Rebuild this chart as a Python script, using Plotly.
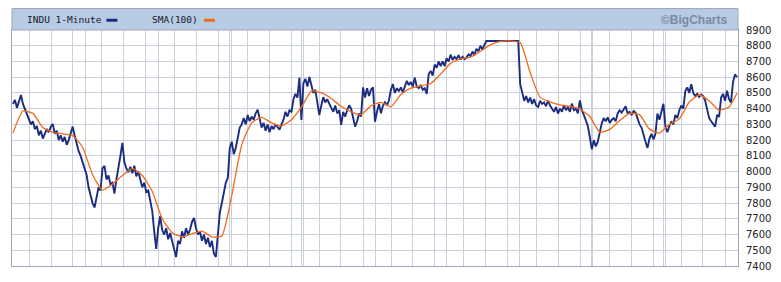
import plotly.graph_objects as go

indu = [
    8430, 8455, 8405, 8440, 8487, 8430, 8400, 8360, 8330, 8300,
    8320, 8270, 8290, 8230, 8260, 8210, 8240, 8270, 8250, 8285,
    8303, 8240, 8260, 8200, 8230, 8190, 8220, 8170, 8200, 8250,
    8286, 8230, 8170, 8130, 8100, 8060, 8010, 7980, 7900, 7840,
    7800, 7772, 7840, 7900, 7880, 8020, 8037, 7950, 7975, 7920,
    7930, 7861, 7950, 8040, 8100, 8182, 8060, 8020, 7996, 8030,
    7990, 8037, 7970, 8000, 7950, 7900, 7930, 7870, 7880, 7800,
    7750, 7620, 7508, 7640, 7716, 7630, 7600, 7640, 7570, 7610,
    7560, 7500, 7457, 7560, 7540, 7620, 7580, 7640, 7600, 7630,
    7680, 7705, 7640, 7600, 7620, 7560, 7600, 7540, 7580, 7520,
    7560, 7480, 7457, 7600, 7740, 7800, 7880, 7930, 7960, 8150,
    8190, 8110, 8150, 8230, 8280, 8300, 8340, 8300, 8360, 8320,
    8350, 8330, 8370, 8394, 8340, 8280, 8310, 8260, 8300, 8250,
    8290, 8270, 8300, 8280, 8266, 8300, 8330, 8380, 8350, 8390,
    8380, 8460, 8494, 8470, 8597, 8328, 8560, 8590, 8540, 8601,
    8556, 8500, 8520, 8440, 8359, 8420, 8473, 8440, 8460, 8432,
    8410, 8380, 8420, 8370, 8390, 8297, 8380, 8350, 8390, 8421,
    8400, 8340, 8286, 8320, 8369, 8350, 8535, 8470, 8530, 8480,
    8520, 8535, 8317, 8380, 8430, 8370, 8420, 8440, 8421, 8452,
    8520, 8556, 8500, 8530, 8510, 8535, 8504, 8540, 8577, 8550,
    8570, 8540, 8597, 8540, 8530, 8550, 8520, 8530, 8494, 8620,
    8640, 8610, 8680, 8660, 8700, 8670, 8701, 8670, 8720, 8700,
    8743, 8710, 8730, 8715, 8740, 8711, 8730, 8715, 8725, 8745,
    8735, 8763, 8740, 8780, 8765, 8800, 8775, 8805, 8830, 8830,
    8830, 8830, 8830, 8830, 8830, 8830, 8830, 8830, 8830, 8830,
    8830, 8830, 8830, 8830, 8830, 8556, 8494, 8450, 8480, 8440,
    8470, 8430, 8460, 8420, 8411, 8450, 8430, 8440, 8415, 8452,
    8420, 8400, 8380, 8411, 8369, 8400, 8380, 8420, 8390, 8410,
    8380, 8432, 8390, 8400, 8370, 8452, 8390, 8360, 8328, 8290,
    8220, 8141, 8200, 8160, 8190, 8260, 8307, 8340, 8320, 8345,
    8310, 8328, 8340, 8320, 8370, 8390, 8375, 8395, 8415, 8370,
    8380, 8360, 8385, 8375, 8330, 8300, 8280, 8230, 8190, 8151,
    8210, 8240, 8205, 8240, 8369, 8330, 8390, 8431, 8286, 8250,
    8290, 8320, 8300, 8360, 8340, 8390, 8420, 8400, 8510, 8535,
    8500, 8556, 8500, 8480, 8494, 8475, 8490, 8480, 8450, 8400,
    8340, 8320, 8300, 8286, 8360, 8348, 8470, 8494, 8450, 8514,
    8460, 8440, 8570, 8618, 8600,
]
minute = list(range(len(indu)))

# SMA(100) read every 5th sample, plus the last one
sma_idx = list(range(0, 361, 5)) + [364]
sma = [
    8245, 8385, 8370, 8280, 8250, 8240, 8228, 8155, 7980, 7882,
    7920, 7975, 8020, 7975, 7875, 7700, 7612, 7585, 7605, 7622,
    7585, 7590, 7850, 8170, 8310, 8345, 8310, 8290, 8330, 8410,
    8512, 8500, 8465, 8415, 8380, 8362, 8418, 8440, 8412, 8490,
    8530, 8545, 8560, 8620, 8688, 8716, 8728, 8765, 8805, 8828,
    8830, 8820, 8630, 8472, 8443, 8424, 8414, 8398, 8350, 8250,
    8268, 8325, 8370, 8362, 8270, 8245, 8300, 8335, 8442, 8487,
    8450, 8390, 8410, 8500,
]

# vertical grid positions (in sample units)
vgrid = [8.15, 19.35, 30.15, 36.5, 44.65, 55.65, 66.85, 73.15, 81.35, 92.5,
         103.15, 108.85, 109.65, 117.65, 128.85, 139.85, 145.15, 146.0, 153.85,
         164.85, 176.0, 182.25, 190.15, 201.0, 212.15, 218.15, 226.5, 237.65,
         248.85, 254.65, 263.15, 274.35, 285.15, 290.65, 291.5, 299.85, 311.0,
         321.85, 327.15, 328.0, 336.0, 346.85, 358.15]

BLUE = "#1c2d80"
ORANGE = "#f06a1c"
GRID = "#c9cfdc"
FRAME = "#9ea8b8"
HEADER = "#b7cbe3"

fig = go.Figure()
fig.add_trace(go.Scatter(x=minute, y=indu, mode="lines",
                         line=dict(color=BLUE, width=1.9), hoverinfo="skip"))
fig.add_trace(go.Scatter(x=sma_idx, y=sma, mode="lines",
                         line=dict(color=ORANGE, width=1.3, shape="spline", smoothing=0.5),
                         hoverinfo="skip"))

top = (272 - 8) / 242.0
fig.update_layout(
    width=781, height=282,
    margin=dict(l=12, r=39, t=30, b=10, pad=0),
    paper_bgcolor="white", plot_bgcolor="white",
    showlegend=False,
    xaxis=dict(range=[-0.5, 364.5], tickvals=vgrid, showticklabels=False,
               showgrid=True, gridcolor=GRID, gridwidth=1, zeroline=False,
               showline=True, linecolor=FRAME, linewidth=1, mirror=True, ticks=""),
    yaxis=dict(range=[7400, 8900], tick0=7400, dtick=100, side="right",
               showgrid=True, gridcolor=GRID, gridwidth=1, zeroline=False,
               showline=True, linecolor=FRAME, linewidth=1, mirror=True,
               ticks="outside", ticklen=5, tickcolor="rgba(0,0,0,0)",
               tickfont=dict(family="DejaVu Sans", size=10, color="#222222")),
    shapes=[
        dict(type="rect", xref="paper", yref="paper", x0=0, x1=1, y0=1.0, y1=top,
             fillcolor=HEADER, line=dict(color=FRAME, width=1), layer="above"),
        dict(type="line", xref="paper", yref="paper",
             x0=(107 - 12) / 730, x1=(118 - 12) / 730, y0=(272 - 20) / 242, y1=(272 - 20) / 242,
             line=dict(color=BLUE, width=3)),
        dict(type="line", xref="paper", yref="paper",
             x0=(205 - 12) / 730, x1=(216 - 12) / 730, y0=(272 - 20) / 242, y1=(272 - 20) / 242,
             line=dict(color=ORANGE, width=3)),
    ],
    annotations=[
        dict(text="INDU 1-Minute", xref="paper", yref="paper", x=(25 - 12) / 730,
             y=(272 - 19.5) / 242, xanchor="left", yanchor="middle", showarrow=False,
             font=dict(family="DejaVu Sans Mono", size=9.5, color="#1a1a2a")),
        dict(text="SMA(100)", xref="paper", yref="paper", x=(151 - 12) / 730,
             y=(272 - 19.5) / 242, xanchor="left", yanchor="middle", showarrow=False,
             font=dict(family="DejaVu Sans Mono", size=9.5, color="#1a1a2a")),
        dict(text="©BigCharts", xref="paper", yref="paper", x=(734 - 12) / 730,
             y=(272 - 19.5) / 242, xanchor="right", yanchor="middle", showarrow=False,
             font=dict(family="Liberation Sans", size=12, color="#7b8aa2", weight="bold")),
    ],
)

fig.write_html("out.html")
